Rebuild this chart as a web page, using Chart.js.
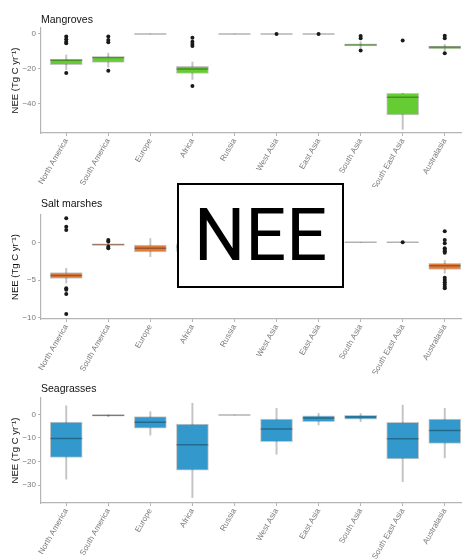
<!DOCTYPE html>
<html>
<head>
<meta charset="utf-8">
<script src="https://cdn.jsdelivr.net/npm/chart.js@4/dist/chart.umd.min.js"></script>
<style>
  body { margin: 0; background: #fff; overflow: hidden; }
  #wrap { position: relative; width: 462px; height: 560px; }
  canvas { position: absolute; left: 0; }
  #nee {
    position: absolute; left: 177px; top: 183px; width: 163px; height: 101px;
    border: 2px solid #000; background: #fff;
    display: flex; align-items: center; justify-content: center;
    font-family: Roboto, sans-serif; font-size: 72px; line-height: 1; color: #000;
  }
</style>
</head>
<body>
<div id="wrap">
  <canvas id="mangroves" width="462" height="187" style="top:0"></canvas>
  <canvas id="saltmarshes" width="462" height="187" style="top:187px"></canvas>
  <canvas id="seagrasses" width="462" height="186" style="top:374px"></canvas>
  <div id="nee">NEE</div>
</div>
<script>
const categories = ["North America", "South America", "Europe", "Africa", "Russia",
  "West Asia", "East Asia", "South Asia", "South East Asia", "Australasia"];

// Mangroves
const mangroveLow = [-20.4, -19, 0, -26, 0, 0, 0, -8, -54.5, -9.5];
const mangroveQ1 = [-17.5, -16.2, 0, -22.5, 0, 0, 0, -6.9, -46.3, -8.6];
const mangroveMedian = [-15, -13.5, 0, -20, 0, 0, 0, -6.3, -36.2, -7.4];
const mangroveQ3 = [-14.3, -13, 0, -18.5, 0, 0, 0, -5.7, -33.9, -6.9];
const mangroveHigh = [-12, -11, 0, -16, 0, 0, 0, -4.5, -33.9, -6];
const mangroveOutliers = [
  [-1.5, -3, -4.4, -5.3, -22.3], [-1.5, -3.4, -4.8, -21], [], [-2.1, -4.4, -5.7, -6.9, -29.7], [],
  [0], [0], [-1.2, -2.4, -9.5], [-3.8], [-1, -2.4, -11]
];
const mangroveTicks = [0, -20, -40];

// Salt marshes
const saltLow = [-5.4, -0.5, -1.9, -2, 0, 0, 0, 0, 0, -4.1];
const saltQ1 = [-4.8, -0.4, -1.29, -1.2, 0, 0, 0, 0, 0, -3.6];
const saltMedian = [-4.4, -0.3, -0.8, -0.6, 0, 0, 0, 0, 0, -3.1];
const saltQ3 = [-4.0, -0.25, -0.36, -0.2, 0, 0, 0, 0, 0, -2.8];
const saltHigh = [-3.45, -0.15, 0.5, 0.6, 0, 0, 0, 0, 0, -2.4];
const saltOutliers = [
  [3.2, 2.07, 1.63, -6.1, -6.3, -6.86, -9.5], [0.3, 0.1, -0.6, -0.8], [], [], [],
  [], [], [], [0], [1.46, 0.3, -0.14, -0.8, -1.0, -1.2, -1.4, -4.7, -5.0, -5.3, -5.6, -5.9, -6.1]
];
const saltTicks = [0, -5, -10];

// Seagrasses
const seaLow = [-27.4, -1.0, -8.8, -35.2, -0.3, -16.9, -4.5, -3.1, -28.5, -18.4];
const seaQ1 = [-18.2, -0.8, -5.9, -23.6, -0.3, -11.6, -3.1, -2.1, -18.9, -12.3];
const seaMedian = [-10.2, -0.4, -3.4, -12.9, -0.3, -6.2, -1.6, -1.1, -10.3, -6.8];
const seaQ3 = [-3.3, -0.2, -1.0, -4.1, -0.3, -2.0, -0.6, -0.4, -3.4, -2.0];
const seaHigh = [3.6, 0, 1.1, 4.7, -0.3, 2.5, 0.4, 0.3, 3.9, 2.5];
const seaOutliers = [[], [], [], [], [], [], [], [], [], []];
const seaTicks = [0, -10, -20, -30];

const FONT = "'Liberation Sans', Arial, sans-serif";
const AXIS = "#b5b5b5";

function minus(v) {
  return v < 0 ? "\u2212" + Math.abs(v) : String(v);
}

function boxChart(id, title, low, q1, med, q3, high, outliers, ticks, yMin, yMax, fill, titlePad, plotBottom) {
  const ctx = document.getElementById(id);
  if (!ctx) return;

  const outlierPoints = [];
  outliers.forEach((list, i) => list.forEach((v) => outlierPoints.push({ x: i, y: v })));

  return new Chart(ctx, {
    type: "bar",
    data: {
      datasets: [
        {
          // whiskers
          data: categories.map((c, i) => ({ x: i, y: [low[i], high[i]] })),
          backgroundColor: "#c4c4c4",
          barThickness: 1.3,
          grouped: false,
          order: 4,
        },
        {
          // boxes
          data: categories.map((c, i) => ({ x: i, y: [q1[i], q3[i]] })),
          backgroundColor: fill,
          borderColor: "rgba(0,0,0,0.22)",
          borderWidth: 1,
          borderSkipped: false,
          barThickness: 32,
          grouped: false,
          order: 3,
        },
        {
          type: "scatter",
          data: categories.map((c, i) => ({ x: i, y: med[i] })),
          pointStyle: "line",
          pointRadius: 16,
          borderWidth: 1.5,
          borderColor: "rgba(0,0,0,0.3)",
          order: 2,
        },
        {
          type: "scatter",
          data: outlierPoints,
          pointRadius: 2,
          backgroundColor: "#1a1a1a",
          borderWidth: 0,
          order: 1,
        },
      ],
    },
    options: {
      responsive: false,
      animation: false,
      layout: { padding: 0, autoPadding: false },
      plugins: {
        legend: { display: false },
        tooltip: { enabled: false },
        title: {
          display: true,
          text: title,
          align: "start",
          fullSize: false,
          color: "#111",
          font: { family: FONT, size: 10.5, weight: "normal" },
          padding: titlePad,
        },
      },
      scales: {
        x: {
          type: "linear",
          offset: false,
          min: -0.6,
          max: 9.41,
          afterBuildTicks: (scale) => {
            scale.ticks = categories.map((c, i) => ({ value: i }));
          },
          afterFit: (scale) => {
            scale.height = ctx.height - plotBottom;
            scale.paddingLeft = 0;
            scale.paddingRight = 0;
          },
          ticks: {
            callback: (v) => categories[v],
            minRotation: 60,
            maxRotation: 60,
            padding: 1,
            color: "#7a7a7a",
            font: { family: FONT, size: 8 },
          },
          grid: { display: true, drawOnChartArea: false, offset: false, tickLength: 3, color: AXIS },
          border: { color: AXIS, width: 1.2 },
        },
        y: {
          min: yMin,
          max: yMax,
          afterBuildTicks: (scale) => {
            scale.ticks = ticks.map((v) => ({ value: v }));
          },
          afterFit: (scale) => {
            scale.width = 41;
            scale.paddingTop = 0;
            scale.paddingBottom = 0;
          },
          ticks: {
            callback: (v) => minus(v),
            padding: 2,
            color: "#7a7a7a",
            font: { family: FONT, size: 8 },
          },
          grid: { display: true, drawOnChartArea: false, tickLength: 3, color: AXIS },
          border: { color: AXIS, width: 1.2 },
          title: {
            display: true,
            text: "NEE (Tg C yr\u207B\u00B9)",
            color: "#111",
            font: { family: FONT, size: 9.5 },
            padding: { top: 10, bottom: 0 },
          },
        },
      },
    },
  });
}

boxChart("mangroves", "Mangroves", mangroveLow, mangroveQ1, mangroveMedian, mangroveQ3, mangroveHigh,
  mangroveOutliers, mangroveTicks, -56.6, 3.4, "#66cc33", { top: 13.7, bottom: 1.7 }, 133);
boxChart("saltmarshes", "Salt marshes", saltLow, saltQ1, saltMedian, saltQ3, saltHigh,
  saltOutliers, saltTicks, -10.17, 3.62, "#e07b39", { top: 10.7, bottom: 4.7 }, 132);
boxChart("seagrasses", "Seagrasses", seaLow, seaQ1, seaMedian, seaQ3, seaHigh,
  seaOutliers, seaTicks, -37.5, 6.9, "#3399cc", { top: 8.7, bottom: 2.7 }, 129);
</script>
</body>
</html>
